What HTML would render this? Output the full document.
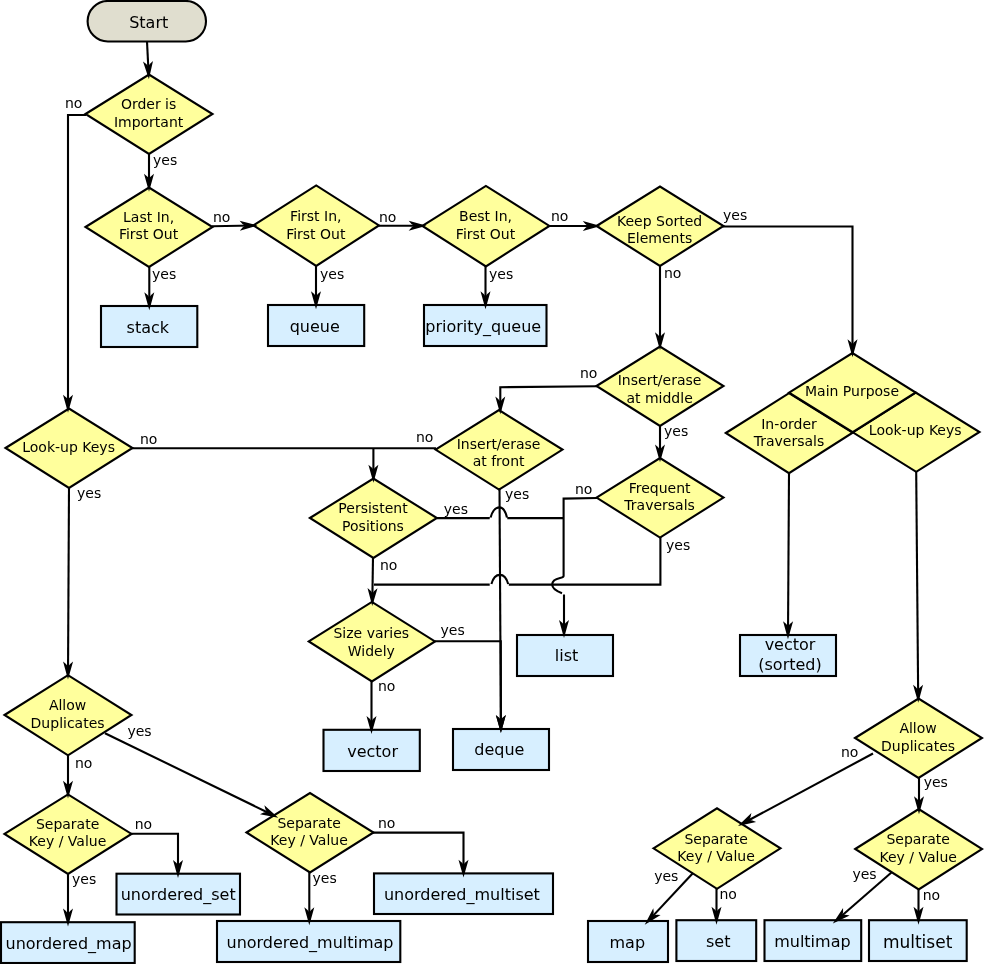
<!DOCTYPE html>
<html lang="en">
<head>
<meta charset="utf-8">
<title>C++ container choice flowchart</title>
<style>
html,body{margin:0;padding:0;background:#fff;}
body{width:984px;height:964px;overflow:hidden;}
svg{display:block;font-family:"DejaVu Sans","Liberation Sans",sans-serif;will-change:transform;}
.d{fill:#ffff9c;stroke:#000;stroke-width:2.1;stroke-linejoin:miter;}
.b{fill:#d7efff;stroke:#000;stroke-width:2.1;}
.s{fill:#e0decf;stroke:#000;stroke-width:2.1;}
.l{fill:none;stroke:#000;stroke-width:2.1;}
text{fill:#000;}
</style>
</head>
<body>
<svg width="984" height="964" viewBox="0 0 984 964">
<defs>
<marker id="a" markerUnits="userSpaceOnUse" markerWidth="30" markerHeight="30" refX="0" refY="0" viewBox="-15 -15 30 30" orient="auto" overflow="visible">
<path d="M4.2,0 L-13.7,5 Q-10.8,1 -8.4,0 Q-10.8,-1 -13.7,-5 Z" fill="#000"/>
</marker>
</defs>
<rect class="s" x="87.6" y="1" width="118.4" height="40.5" rx="20.25" ry="20.25"/>
<text x="148.7" y="28" font-size="16" text-anchor="middle">Start</text>
<polygon class="d" points="85.5,114 149,74.5 212.5,114 149,154.0"/>
<text x="148.6" y="109" font-size="14" text-anchor="middle">Order is</text>
<text x="148.6" y="127" font-size="14" text-anchor="middle">Important</text>
<polygon class="d" points="85.5,227 149,187.5 212.5,227 149,267.0"/>
<text x="148.6" y="222" font-size="14" text-anchor="middle">Last In,</text>
<text x="148.6" y="239" font-size="14" text-anchor="middle">First Out</text>
<polygon class="d" points="253.39999999999998,225.4 316.2,185.4 379.0,225.4 316.2,265.9"/>
<text x="315.8" y="221" font-size="14" text-anchor="middle">First In,</text>
<text x="315.8" y="239" font-size="14" text-anchor="middle">First Out</text>
<polygon class="d" points="422.4,225.9 485.9,185.9 549.4,225.9 485.9,266.4"/>
<text x="485.5" y="221" font-size="14" text-anchor="middle">Best In,</text>
<text x="485.5" y="239" font-size="14" text-anchor="middle">First Out</text>
<polygon class="d" points="596.5,226 660,186.5 723.5,226 660,266.0"/>
<text x="659.6" y="226" font-size="14" text-anchor="middle">Keep Sorted</text>
<text x="659.6" y="243" font-size="14" text-anchor="middle">Elements</text>
<polygon class="d" points="596.5,386 660,346.5 723.5,386 660,426.0"/>
<text x="659.6" y="385" font-size="14" text-anchor="middle">Insert/erase</text>
<text x="659.6" y="403" font-size="14" text-anchor="middle">at middle</text>
<polygon class="d" points="435.5,449.6 499,410.1 562.5,449.6 499,489.6"/>
<text x="498.6" y="449" font-size="14" text-anchor="middle">Insert/erase</text>
<text x="498.6" y="466" font-size="14" text-anchor="middle">at front</text>
<polygon class="d" points="596.5,497.6 660,458.1 723.5,497.6 660,537.6"/>
<text x="659.6" y="493" font-size="14" text-anchor="middle">Frequent</text>
<text x="659.6" y="510" font-size="14" text-anchor="middle">Traversals</text>
<polygon class="d" points="309.9,518 373.4,478.5 436.9,518 373.4,558.0"/>
<text x="373.0" y="513" font-size="14" text-anchor="middle">Persistent</text>
<text x="373.0" y="531" font-size="14" text-anchor="middle">Positions</text>
<polygon class="d" points="308.79999999999995,641.4 371.9,601.9 435.0,641.4 371.9,681.4"/>
<text x="371.3" y="638" font-size="14" text-anchor="middle">Size varies</text>
<text x="371.3" y="656" font-size="14" text-anchor="middle">Widely</text>
<polygon class="d" points="5.5,448 69,408.5 132.5,448 69,488.0"/>
<text x="68.6" y="452" font-size="14" text-anchor="middle">Look-up Keys</text>
<polygon class="d" points="4.5,715 68,675.2 131.5,715 68,755.3"/>
<text x="67.6" y="710" font-size="14" text-anchor="middle">Allow</text>
<text x="67.6" y="728" font-size="14" text-anchor="middle">Duplicates</text>
<polygon class="d" points="4.5,833.9 68,794.4 131.5,833.9 68,873.9"/>
<text x="67.6" y="829" font-size="14" text-anchor="middle">Separate</text>
<text x="67.6" y="846" font-size="14" text-anchor="middle">Key / Value</text>
<polygon class="d" points="246.5,832.5 310,793.0 373.5,832.5 310,872.5"/>
<text x="309.1" y="828" font-size="14" text-anchor="middle">Separate</text>
<text x="309.1" y="845" font-size="14" text-anchor="middle">Key / Value</text>
<polygon class="d" points="855.0,738 918.5,698.5 982.0,738 918.5,778.0"/>
<text x="918.1" y="733" font-size="14" text-anchor="middle">Allow</text>
<text x="918.1" y="751" font-size="14" text-anchor="middle">Duplicates</text>
<polygon class="d" points="653.5,848.3 717,808.3 780.5,848.3 717,888.8"/>
<text x="716.1" y="844" font-size="14" text-anchor="middle">Separate</text>
<text x="716.1" y="861" font-size="14" text-anchor="middle">Key / Value</text>
<polygon class="d" points="855.2,849 918.7,809 982.2,849 918.7,889.5"/>
<text x="918.2" y="844" font-size="14" text-anchor="middle">Separate</text>
<text x="918.2" y="862" font-size="14" text-anchor="middle">Key / Value</text>
<polygon class="d" points="725.8,433 789,393.2 852.6,432.7 789,473.2"/>
<polygon class="d" points="852.8,432.3 915.7,392.6 979.5,432 916.2,471.8"/>
<polygon class="d" points="789.1,392.7 852.4,353 915.7,392.5 852.7,432.2"/>
<text x="852.0" y="396" font-size="14" text-anchor="middle">Main Purpose</text>
<text x="789.0" y="429" font-size="14" text-anchor="middle">In-order</text>
<text x="789.0" y="446" font-size="14" text-anchor="middle">Traversals</text>
<text x="915.2" y="435" font-size="14" text-anchor="middle">Look-up Keys</text>
<rect class="b" x="101" y="306" width="96.30000000000001" height="41"/>
<text x="147.8" y="333" font-size="16" text-anchor="middle">stack</text>
<rect class="b" x="268" y="305" width="96.19999999999999" height="41"/>
<text x="314.7" y="332" font-size="16" text-anchor="middle">queue</text>
<rect class="b" x="424" y="305" width="122.5" height="41"/>
<text x="483.2" y="332" font-size="16" text-anchor="middle">priority_queue</text>
<rect class="b" x="517" y="635" width="96" height="41"/>
<text x="566.5" y="661" font-size="16" text-anchor="middle">list</text>
<rect class="b" x="740" y="635" width="96" height="41"/>
<text x="790.0" y="650" font-size="16" text-anchor="middle">vector</text>
<text x="790.0" y="670" font-size="16" text-anchor="middle">(sorted)</text>
<rect class="b" x="323.5" y="729.8" width="96.30000000000001" height="41.200000000000045"/>
<text x="372.6" y="757" font-size="16" text-anchor="middle">vector</text>
<rect class="b" x="453" y="729" width="96" height="41"/>
<text x="499.3" y="755" font-size="16" text-anchor="middle">deque</text>
<rect class="b" x="116.5" y="873.7" width="123.5" height="40.799999999999955"/>
<text x="178.2" y="900" font-size="16" text-anchor="middle">unordered_set</text>
<rect class="b" x="1" y="922.2" width="133.7" height="40.799999999999955"/>
<text x="68.6" y="949" font-size="16" text-anchor="middle">unordered_map</text>
<rect class="b" x="217" y="921" width="183.3" height="41"/>
<text x="310.0" y="948" font-size="16" text-anchor="middle">unordered_multimap</text>
<rect class="b" x="374" y="873.4" width="179" height="40.60000000000002"/>
<text x="461.9" y="900" font-size="16" text-anchor="middle">unordered_multiset</text>
<rect class="b" x="588" y="921" width="80" height="41"/>
<text x="627.3" y="948" font-size="16" text-anchor="middle">map</text>
<rect class="b" x="676.4" y="920.2" width="79.80000000000007" height="40.799999999999955"/>
<text x="718.2" y="947" font-size="16" text-anchor="middle">set</text>
<rect class="b" x="764.5" y="920.2" width="96.70000000000005" height="40.799999999999955"/>
<text x="812.4" y="947" font-size="16" text-anchor="middle">multimap</text>
<rect class="b" x="869" y="920.2" width="97.70000000000005" height="40.799999999999955"/>
<text x="917.6" y="948" font-size="17" text-anchor="middle">multiset</text>
<path class="l" d="M147,41.5 L148.7,75" marker-end="url(#a)"/>
<path class="l" d="M149,153.5 L149,187.5" marker-end="url(#a)"/>
<path class="l" d="M86,115 L68,115 L68,408.5" marker-end="url(#a)"/>
<path class="l" d="M212,226.3 L253.4,225.5" marker-end="url(#a)"/>
<path class="l" d="M379,225.8 L422.4,225.8" marker-end="url(#a)"/>
<path class="l" d="M549,226 L596.5,226" marker-end="url(#a)"/>
<path class="l" d="M149.3,266 L149.3,306" marker-end="url(#a)"/>
<path class="l" d="M316,265 L316,305" marker-end="url(#a)"/>
<path class="l" d="M485.5,265 L485.5,305" marker-end="url(#a)"/>
<path class="l" d="M660,265 L660,346" marker-end="url(#a)"/>
<path class="l" d="M723,226.5 L852.5,226.5 L852.5,353" marker-end="url(#a)"/>
<path class="l" d="M597,386.3 L500.3,387.2 L500.3,410.1" marker-end="url(#a)"/>
<path class="l" d="M660,425 L660,458.1" marker-end="url(#a)"/>
<path class="l" d="M132,448.3 L436,448.3"/>
<path class="l" d="M373.4,448.3 L373.4,478.5" marker-end="url(#a)"/>
<path class="l" d="M499.5,488 L500.9,728.8" marker-end="url(#a)"/>
<path class="l" d="M437,518.1 L489.7,518.1 M490.6,517.5 C491.6,513.5 494.5,507.4 499.5,507.4 C504.5,507.4 506,513.5 507,517.5 M507.3,518.1 L563.6,518.1"/>
<path class="l" d="M597,498 L563.6,498.6 L563.6,576 Q563.3,577.4 560,578 Q552.2,579.6 552.2,584.6 Q552.2,589.6 562,593.2"/>
<path class="l" d="M564,594.5 L564,633.7" marker-end="url(#a)"/>
<path class="l" d="M660.4,537 L660.4,584.6 L508.8,584.6 M508.2,584 C507.2,580.4 505,574.9 499.9,574.9 C494.8,574.9 492.4,580.4 491.4,584 M489.7,584.6 L374,584.6"/>
<path class="l" d="M373,557 L372.3,601.9" marker-end="url(#a)"/>
<path class="l" d="M435,641.3 L500.8,641.3 L500.9,728.8" marker-end="url(#a)"/>
<path class="l" d="M371.5,680 L371.5,729.8" marker-end="url(#a)"/>
<path class="l" d="M69,487 L68,675.2" marker-end="url(#a)"/>
<path class="l" d="M68,755 L68,794.4" marker-end="url(#a)"/>
<path class="l" d="M105,733.2 L274.5,815.8" marker-end="url(#a)"/>
<path class="l" d="M131,833.8 L178,833.8 L178,873.7" marker-end="url(#a)"/>
<path class="l" d="M68,873 L68,922.2" marker-end="url(#a)"/>
<path class="l" d="M373,832.6 L463.5,832.6 L463.5,873.4" marker-end="url(#a)"/>
<path class="l" d="M309.3,872 L309.3,921" marker-end="url(#a)"/>
<path class="l" d="M789,473 L788,635" marker-end="url(#a)"/>
<path class="l" d="M916.2,472 L918.2,698.5" marker-end="url(#a)"/>
<path class="l" d="M873,753.5 L741.7,824" marker-end="url(#a)"/>
<path class="l" d="M919,778 L919,810" marker-end="url(#a)"/>
<path class="l" d="M693,873 L647.6,921.6" marker-end="url(#a)"/>
<path class="l" d="M716.5,888 L716.5,920.5" marker-end="url(#a)"/>
<path class="l" d="M892,872 L836,920.7" marker-end="url(#a)"/>
<path class="l" d="M918.5,889 L918.5,920.5" marker-end="url(#a)"/>
<text x="65" y="108" font-size="14">no</text>
<text x="153" y="165" font-size="14">yes</text>
<text x="213" y="222" font-size="14">no</text>
<text x="379" y="222" font-size="14">no</text>
<text x="551" y="221" font-size="14">no</text>
<text x="723" y="220" font-size="14">yes</text>
<text x="152" y="279" font-size="14">yes</text>
<text x="320" y="279" font-size="14">yes</text>
<text x="489" y="279" font-size="14">yes</text>
<text x="664" y="278" font-size="14">no</text>
<text x="580" y="378" font-size="14">no</text>
<text x="664" y="436" font-size="14">yes</text>
<text x="140" y="444" font-size="14">no</text>
<text x="416" y="442" font-size="14">no</text>
<text x="505" y="498.8" font-size="14">yes</text>
<text x="575" y="494" font-size="14">no</text>
<text x="443.8" y="514" font-size="14">yes</text>
<text x="666" y="550" font-size="14">yes</text>
<text x="380" y="570" font-size="14">no</text>
<text x="440.5" y="635.3" font-size="14">yes</text>
<text x="378" y="691" font-size="14">no</text>
<text x="77" y="498" font-size="14">yes</text>
<text x="127.4" y="736" font-size="14">yes</text>
<text x="75" y="768" font-size="14">no</text>
<text x="134.7" y="829.3" font-size="14">no</text>
<text x="72" y="884.3" font-size="14">yes</text>
<text x="378" y="828.3" font-size="14">no</text>
<text x="312.5" y="882.8" font-size="14">yes</text>
<text x="841" y="757.3" font-size="14">no</text>
<text x="923.7" y="787" font-size="14">yes</text>
<text x="654.2" y="881" font-size="14">yes</text>
<text x="719.5" y="898.5" font-size="14">no</text>
<text x="852.4" y="878.5" font-size="14">yes</text>
<text x="922.7" y="899.5" font-size="14">no</text>
</svg>
</body>
</html>
